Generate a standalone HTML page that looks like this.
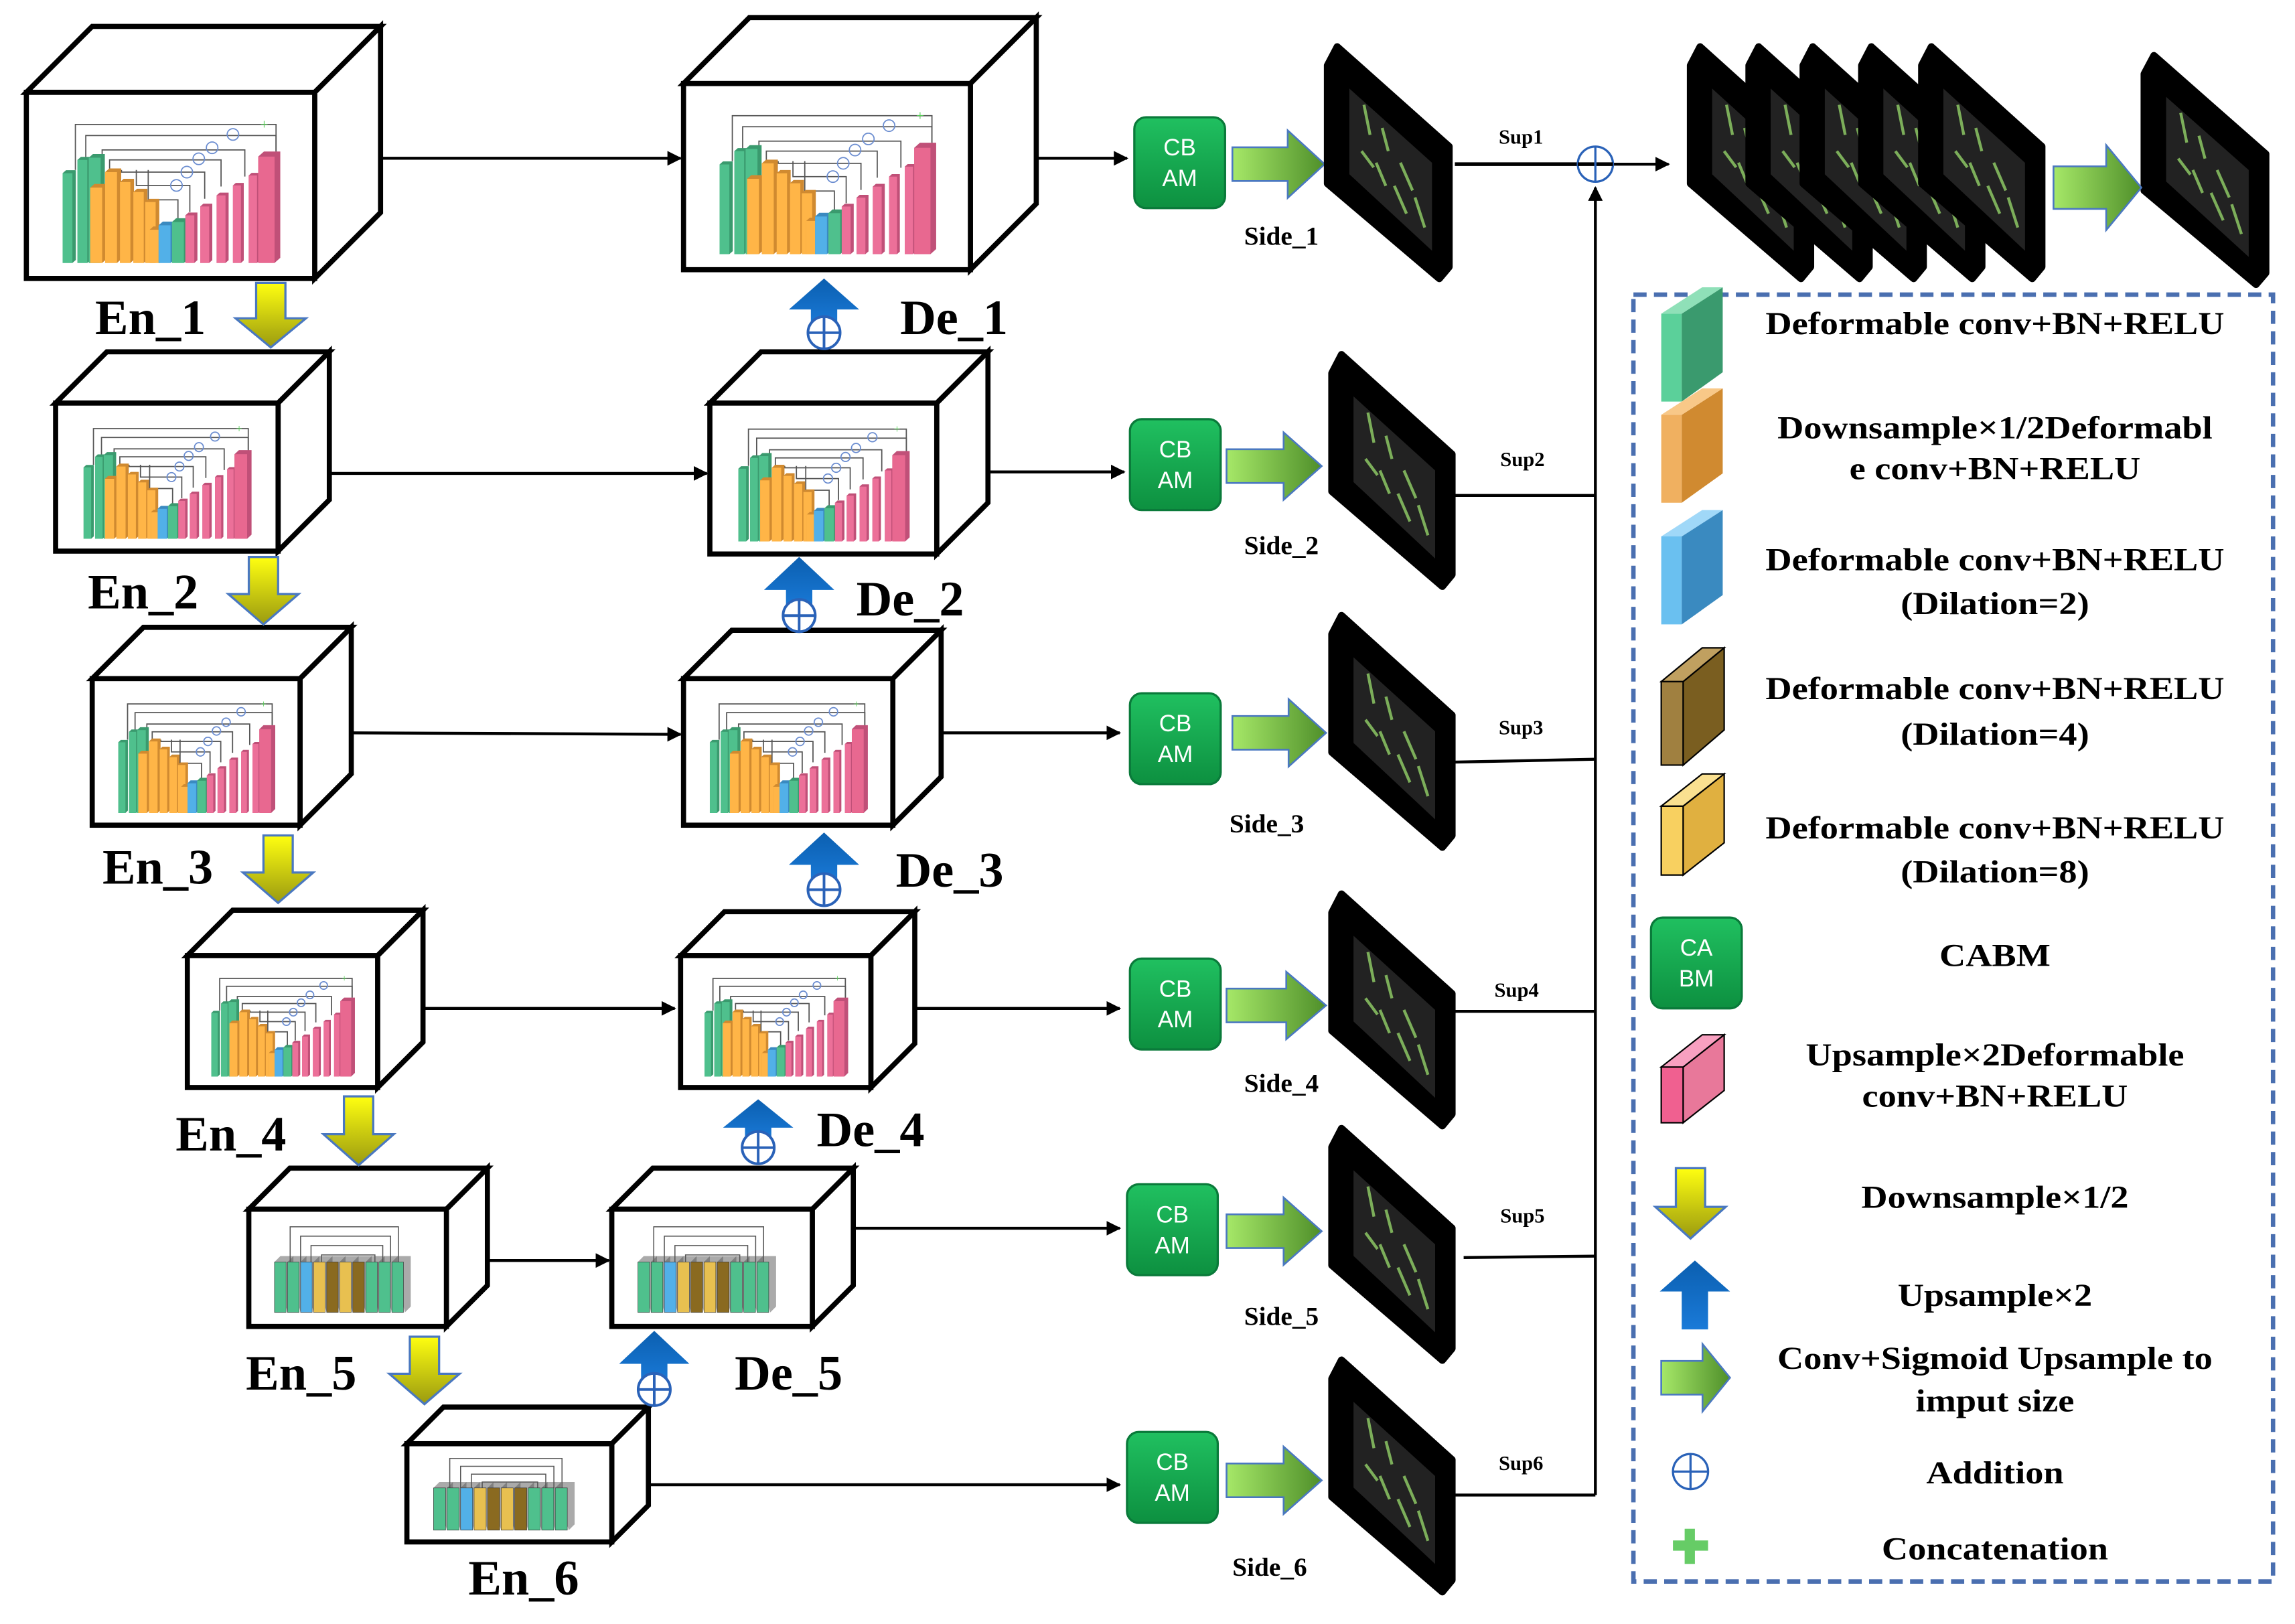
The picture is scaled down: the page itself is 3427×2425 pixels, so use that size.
<!DOCTYPE html>
<html><head><meta charset="utf-8"><style>
html,body{margin:0;padding:0;background:#fff;}
svg{display:block;}
</style></head><body>
<svg id="s" xmlns="http://www.w3.org/2000/svg" width="3427" height="2425" viewBox="0 0 1568 1108" preserveAspectRatio="none">
<defs>
<linearGradient id="yg" x1="0" y1="0" x2="0" y2="1"><stop offset="0" stop-color="#ffff10"/><stop offset="1" stop-color="#9a9a10"/></linearGradient>
<linearGradient id="bg" x1="0" y1="0" x2="0" y2="1"><stop offset="0" stop-color="#0b5fb0"/><stop offset="1" stop-color="#1a7ad8"/></linearGradient>
<linearGradient id="gg" x1="0" y1="0" x2="1" y2="0"><stop offset="0" stop-color="#a6e868"/><stop offset="1" stop-color="#4f8f2a"/></linearGradient>
<linearGradient id="cb" x1="0" y1="0" x2="0" y2="1"><stop offset="0" stop-color="#20c060"/><stop offset="1" stop-color="#0d9040"/></linearGradient>
<marker id="ah" markerWidth="10" markerHeight="10" refX="9" refY="5" orient="auto" markerUnits="userSpaceOnUse"><path d="M0,0 L10,5 L0,10 z" fill="#000"/></marker>
</defs>
<g id="root" font-family="'Liberation Serif', serif"></g>
</svg>
<script>
const R=document.getElementById('root');let H='';
function box(x1,y1,x2,y2,d){
 H+=`<polygon points="${x1},${y1} ${x1+d},${y1-d} ${x2+d},${y1-d} ${x2},${y1}" fill="#fff" stroke="#000" stroke-width="3.5" stroke-linejoin="miter"/>`;
 H+=`<polygon points="${x2},${y1} ${x2+d},${y1-d} ${x2+d},${y2-d} ${x2},${y2}" fill="#fff" stroke="#000" stroke-width="3.5"/>`;
 H+=`<rect x="${x1}" y="${y1}" width="${x2-x1}" height="${y2-y1}" fill="#fff" stroke="#000" stroke-width="3.5"/>`;
}
function unet(x1,y1,x2,y2){
 const w=x2-x1,h=y2-y1;const X=z=>x1+(z-90)/970*w,Y=z=>y1+(z-410)/840*h;
 const bot=1180;
 const sk=[[255,930,555],[290,930,605],[345,825,670],[370,745,715],[410,690,770],[460,640,830],[500,600,895]];
 for(const s of sk){H+=`<polyline points="${X(s[0])},${Y(760)} ${X(s[0])},${Y(s[2])} ${X(s[1])},${Y(s[2])} ${X(s[1])},${Y(s[2]+120)}" fill="none" stroke="#555" stroke-width="0.8"/>`;}
 [[595,830],[630,770],[670,710],[715,660],[785,600]].forEach(c=>{H+=`<circle cx="${X(c[0])}" cy="${Y(c[1])}" r="${w*0.02}" fill="none" stroke="#6a8cd0" stroke-width="0.8"/>`;});
 H+=`<text x="${X(890)}" y="${Y(575)}" font-size="${w*0.05}" fill="#5c5" text-anchor="middle">+</text>`;
 const bars=[['#4fc08d','#3a9a6e',212,245,775],['#4fc08d','#3a9a6e',262,295,715],['#4fc08d','#3a9a6e',300,340,705],
 ['#ffb547','#d08a30',305,345,840],['#ffb547','#d08a30',355,395,770],['#ffb547','#d08a30',405,440,815],['#ffb547','#d08a30',450,485,860],['#ffb547','#d08a30',490,525,905],['#ffb547','#d08a30',505,540,1030],
 ['#52b0e8','#3a8ac0',535,575,1010],['#4fc08d','#3a9a6e',580,620,995],
 ['#ec7099','#c05078',625,655,965],['#ec7099','#c05078',675,705,925],['#ec7099','#c05078',730,760,875],['#ec7099','#c05078',785,812,830],['#ec7099','#c05078',838,866,785],['#e86890','#c05078',870,925,700]];
 for(const b of bars){const [c,c2,a,e,t]=b;const dd=(e-a)*0.35;
  H+=`<polygon points="${X(a)},${Y(t)} ${X(a+dd)},${Y(t-dd*1.2)} ${X(e+dd)},${Y(t-dd*1.2)} ${X(e+dd)},${Y(bot-dd*1.2)} ${X(e)},${Y(bot)} ${X(a)},${Y(bot)}" fill="${c2}"/>`;
  H+=`<rect x="${X(a)}" y="${Y(t)}" width="${X(e)-X(a)}" height="${Y(bot)-Y(t)}" fill="${c}"/>`;}
}
function unet2(x1,y1,x2,y2){
 const w=x2-x1,h=y2-y1;const bx=x1+w*0.13,bw=w*0.66,by=y1+h*0.45,bb=y1+h*0.88;
 for(let i=0;i<4;i++){H+=`<polyline points="${bx+bw*(0.12+i*0.08)},${by} ${bx+bw*(0.12+i*0.08)},${y1+h*(0.15+i*0.08)} ${bx+bw*(0.95-i*0.06)},${y1+h*(0.15+i*0.08)} ${bx+bw*(0.95-i*0.06)},${by}" fill="none" stroke="#555" stroke-width="0.7"/>`;}
 const cs=['#4fc08d','#4fc08d','#52b0e8','#e8c050','#8a6a20','#e8c050','#8a6a20','#4fc08d','#4fc08d','#4fc08d'];
 cs.forEach((c,i)=>{const x=bx+i*bw/10;H+=`<polygon points="${x},${by} ${x+4},${by-4} ${x+bw/10+4},${by-4} ${x+bw/10+4},${bb-4} ${x+bw/10},${bb}" fill="#555" opacity=".5"/><rect x="${x}" y="${by}" width="${bw/10-1}" height="${bb-by}" fill="${c}" stroke="#333" stroke-width=".3"/>`;});
}
function arr(x1,y,x2,y2){H+=`<line x1="${x1}" y1="${y}" x2="${x2}" y2="${y2===undefined?y:y2}" stroke="#000" stroke-width="2" marker-end="url(#ah)"/>`;}
function ln(x1,y1,x2,y2,w){H+=`<line x1="${x1}" y1="${y1}" x2="${x2}" y2="${y2}" stroke="#000" stroke-width="${w||2}"/>`;}
function ydown(cx,y0,y1){const hw=24,sw=10,hy=y0+(y1-y0)*0.55;
 H+=`<polygon points="${cx-sw},${y0} ${cx+sw},${y0} ${cx+sw},${hy} ${cx+hw},${hy} ${cx},${y1} ${cx-hw},${hy} ${cx-sw},${hy}" fill="url(#yg)" stroke="#4a78c0" stroke-width="1.5"/>`;}
function bup(cx,y0,y1,circ){const hw=24,sw=9,hy=y0+(y1-y0)*0.45;
 H+=`<polygon points="${cx},${y0} ${cx+hw},${hy} ${cx+sw},${hy} ${cx+sw},${y1-(circ?14:0)} ${cx-sw},${y1-(circ?14:0)} ${cx-sw},${hy} ${cx-hw},${hy}" fill="url(#bg)"/>`;
 if(circ){const cy=y1-10;H+=`<circle cx="${cx}" cy="${cy}" r="11" fill="#fff" stroke="#2a62b8" stroke-width="1.8"/><line x1="${cx-11}" y1="${cy}" x2="${cx+11}" y2="${cy}" stroke="#2a62b8" stroke-width="1.8"/><line x1="${cx}" y1="${cy-11}" x2="${cx}" y2="${cy+11}" stroke="#2a62b8" stroke-width="1.8"/>`;}}
function garr(x0,x1,cy,H2){const sh=H2*0.5,hx=x0+(x1-x0)*0.6;
 H+=`<polygon points="${x0},${cy-sh/2} ${hx},${cy-sh/2} ${hx},${cy-H2/2} ${x1},${cy} ${hx},${cy+H2/2} ${hx},${cy+sh/2} ${x0},${cy+sh/2}" fill="url(#gg)" stroke="#4a78c0" stroke-width="1.2"/>`;}
function cbam(x,y,a,b){H+=`<rect x="${x}" y="${y}" width="62" height="62" rx="8" fill="url(#cb)" stroke="#0a7a3a" stroke-width="1.5"/><text x="${x+31}" y="${y+26}" font-family="'Liberation Sans',sans-serif" font-size="16" fill="#fff" text-anchor="middle">${a}</text><text x="${x+31}" y="${y+47}" font-family="'Liberation Sans',sans-serif" font-size="16" fill="#fff" text-anchor="middle">${b}</text>`;}
function slab(x,y,w,h){const P=(a,b)=>`${x+a*w},${y+b*h}`;
 H+=`<polygon points="${P(0,0.08)} ${P(0.08,0)} ${P(1,0.43)} ${P(1,0.95)} ${P(0.92,1)} ${P(0,0.59)}" fill="#000" stroke="#000" stroke-width="5" stroke-linejoin="round"/>`;
 H+=`<polygon points="${P(0.18,0.18)} ${P(0.86,0.5)} ${P(0.86,0.88)} ${P(0.18,0.55)}" fill="#222"/>`;
 const g=[[0.3,0.25,0.35,0.38],[0.45,0.35,0.5,0.45],[0.28,0.45,0.38,0.52],[0.6,0.5,0.7,0.62],[0.55,0.6,0.65,0.72],[0.72,0.65,0.8,0.78],[0.4,0.5,0.48,0.6]];
 g.forEach(s=>{H+=`<line x1="${x+s[0]*w}" y1="${y+s[1]*h}" x2="${x+s[2]*w}" y2="${y+s[3]*h}" stroke="#7cae5a" stroke-width="2"/>`;});}
function T(x,y,s,t,sz,anc,cls){H+=`<text ${cls?'class="'+cls+'"':''} x="${x}" y="${y}" font-size="${sz}" font-weight="bold" text-anchor="${anc||'start'}" fill="#000">${t}</text>`;}

arr(260,108,465,108);arr(225,323,483,323);arr(240,500,465,501);arr(288,688,461,688);arr(305,860,416,860);
arr(708,108,770,108);arr(675,322,768,322);arr(643,500,765,500);arr(625,688,765,688);arr(583,838,765,838);arr(443,1013,765,1013);
box(18,63,215,190,45);unet(18,63,215,190);
box(467,57,663,184,45);unet(467,57,663,184);
box(38,275,190,376,35);unet(38,275,190,376);
box(485,275,640,378,35);unet(485,275,640,378);
box(63,463,205,563,35);unet(63,463,205,563);
box(467,463,610,563,33);unet(467,463,610,563);
box(128,652,258,742,31);unet(128,652,258,742);
box(465,652,595,742,30);unet(465,652,595,742);
box(170,825,305,905,28);unet2(170,825,305,905);
box(418,825,555,905,28);unet2(418,825,555,905);
box(278,985,418,1052,25);unet2(278,985,418,1052);
T(65,228,0,'En_1',34);T(615,228,0,'De_1',34);T(60,415,0,'En_2',34);T(585,420,0,'De_2',34);
T(70,603,0,'En_3',34);T(612,605,0,'De_3',34);T(120,785,0,'En_4',34);T(558,782,0,'De_4',34);
T(168,948,0,'En_5',34);T(502,948,0,'De_5',34);T(320,1088,0,'En_6',34);
ydown(185,193,237);ydown(180,380,426);ydown(190,570,616);ydown(245,748,795);ydown(290,912,958);
bup(563,190,237,1);bup(546,380,430,1);bup(563,568,617,1);bup(518,750,793,1);bup(447,908,958,1);
cbam(775,80,'CB','AM');cbam(772,286,'CB','AM');cbam(772,473,'CB','AM');cbam(772,654,'CB','AM');cbam(770,808,'CB','AM');cbam(770,977,'CB','AM');
garr(842,905,112,46);garr(838,903,318,46);garr(842,906,500,46);garr(838,906,686,46);garr(838,903,840,46);garr(838,903,1010,46);
slab(907,32,83,158);slab(910,242,82,158);slab(910,420,82,158);slab(910,610,82,158);slab(910,770,82,158);slab(910,928,82,158);
[1155,1195,1232,1272,1313].forEach(x=>slab(x,32,82,158));
slab(1465,38,83,156);
garr(1403,1463,128,58);
T(850,167,0,'Side_1',18);T(850,378,0,'Side_2',18);T(840,568,0,'Side_3',18);T(850,745,0,'Side_4',18);T(850,904,0,'Side_5',18);T(842,1075,0,'Side_6',18);
ln(994,112,1078,112,2.5);arr(1102,112,1140,112);
H+=`<circle cx="1090" cy="112" r="12" fill="none" stroke="#2a62b8" stroke-width="1.5"/><line x1="1078" y1="112" x2="1102" y2="112" stroke="#000" stroke-width="2.5"/><line x1="1090" y1="100" x2="1090" y2="124" stroke="#2a62b8" stroke-width="1.5"/>`;
H+=`<line x1="1090" y1="1020" x2="1090" y2="128" stroke="#000" stroke-width="2" marker-end="url(#ah)"/>`;
ln(992,338,1090,338);ln(992,520,1090,518);ln(994,690,1090,690);ln(1000,858,1090,857);ln(992,1020,1090,1020);
T(1024,98,0,'Sup1',14);T(1025,318,0,'Sup2',14);T(1024,501,0,'Sup3',14);T(1021,680,0,'Sup4',14);T(1025,834,0,'Sup5',14);T(1024,1003,0,'Sup6',14);
H+=`<rect x="1116" y="201" width="437" height="878" fill="none" stroke="#4a6fb0" stroke-width="3" stroke-dasharray="9,5"/>`;
function lbar(x,y,c,c2,c3){H+=`<polygon points="${x},${y+18} ${x+14},${y+18} ${x+14},${y+78} ${x},${y+78}" fill="${c}"/><polygon points="${x+14},${y+18} ${x+42},${y} ${x+42},${y+58} ${x+14},${y+78}" fill="${c2}"/><polygon points="${x},${y+18} ${x+28},${y} ${x+42},${y} ${x+14},${y+18}" fill="${c3}"/>`;}
lbar(1135,196,'#5bd09a','#3a9a6e','#8fe0b8');lbar(1135,265,'#f0b060','#d08a30','#f8c888');lbar(1135,348,'#6ac0f0','#3a8ac0','#a0d8f8');
H+=`<polygon points="1135,465 1150,465 1150,522 1135,522" fill="#a08040" stroke="#000"/><polygon points="1150,465 1178,442 1178,498 1150,522" fill="#7a5e20" stroke="#000"/><polygon points="1135,465 1163,442 1178,442 1150,465" fill="#c0a060" stroke="#000"/>`;
H+=`<polygon points="1135,550 1150,550 1150,597 1135,597" fill="#f8d060" stroke="#000"/><polygon points="1150,550 1178,528 1178,575 1150,597" fill="#e0b040" stroke="#000"/><polygon points="1135,550 1163,528 1178,528 1150,550" fill="#fae090" stroke="#000"/>`;
H+=`<polygon points="1135,728 1150,728 1150,766 1135,766" fill="#f06090" stroke="#000"/><polygon points="1150,728 1178,706 1178,744 1150,766" fill="#e8789a" stroke="#000"/><polygon points="1135,728 1163,706 1178,706 1150,728" fill="#f8a0c0" stroke="#000"/>`;
cbam(1128,626,'CA','BM');
ydown(1155,797,845);bup(1158,860,907,0);garr(1135,1182,940,46);
H+=`<circle cx="1155" cy="1004" r="12" fill="none" stroke="#2a62b8" stroke-width="1.5"/><line x1="1143" y1="1004" x2="1167" y2="1004" stroke="#2a62b8" stroke-width="1.5"/><line x1="1155" y1="992" x2="1155" y2="1016" stroke="#2a62b8" stroke-width="1.5"/>`;
H+=`<rect x="1151" y="1043" width="7" height="24" fill="#6c6"/><rect x="1143" y="1051" width="24" height="7" fill="#6c6"/>`;
const L=[[228,'Deformable conv+BN+RELU'],[299,'Downsample×1/2Deformabl'],[327,'e conv+BN+RELU'],[389,'Deformable conv+BN+RELU'],[419,'(Dilation=2)'],[477,'Deformable conv+BN+RELU'],[508,'(Dilation=4)'],[572,'Deformable conv+BN+RELU'],[602,'(Dilation=8)'],[659,'CABM'],[727,'Upsample×2Deformable'],[755,'conv+BN+RELU'],[824,'Downsample×1/2'],[891,'Upsample×2'],[934,'Conv+Sigmoid Upsample to'],[963,'imput size'],[1012,'Addition'],[1064,'Concatenation']];
L.forEach(l=>T(1363,l[0],0,l[1],22,'middle','lg'));
R.innerHTML=H;
document.querySelectorAll('.lg').forEach(t=>{try{const w=t.getComputedTextLength();t.setAttribute('textLength',(w*1.13).toFixed(1));t.setAttribute('lengthAdjust','spacingAndGlyphs');}catch(e){}});
</script>
</body></html>
